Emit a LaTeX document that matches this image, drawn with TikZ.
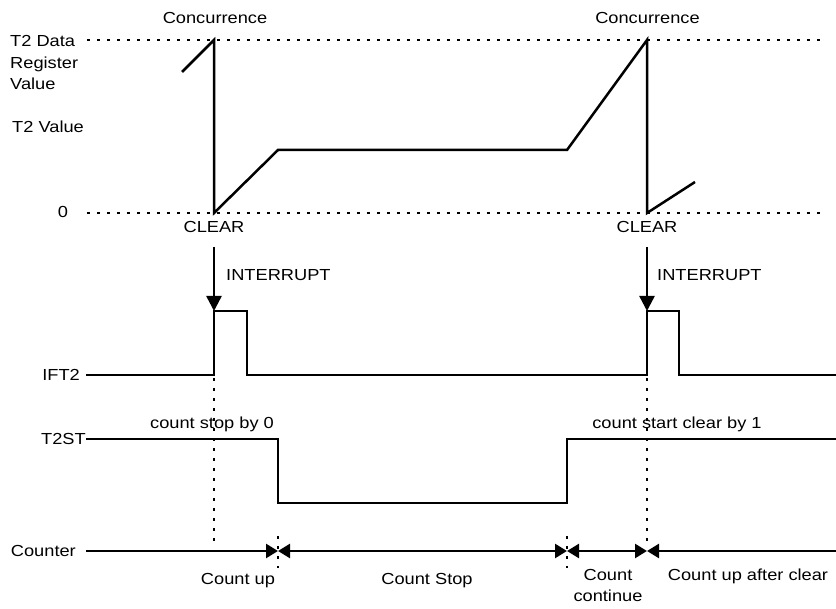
\documentclass[tikz,border=0pt]{standalone}
\usepackage{fontspec}
\setmainfont{Liberation Sans}[FakeStretch=1.14]
\usetikzlibrary{arrows.meta}

\begin{document}
\begin{tikzpicture}[x=1pt, y=-1pt,
        every node/.style={font=\fontsize{16}{21.7}\selectfont, inner sep=0pt},
        wave/.style={line width=2.5pt, line join=miter},
        guide/.style={line width=2.8pt, dash pattern=on 2.8pt off 7.2pt},
        irq/.style={line width=2.5pt, -{Triangle[length=15pt, width=15pt]}},
        bow/.tip={Triangle[length=12pt, width=14pt]},
        span/.style={line width=2.5pt, {bow}-{bow}}
    ]
    \useasboundingbox (0,0) rectangle (836,609);

    % T2 counter value
    \node[anchor=base west, align=left] (regval) at (10,90) {T2 Data\\Register\\Value};
    \node[anchor=base west] (t2val) at (12,133) {T2 Value};
    \node[anchor=base] (zero) at (63,218) {0};
    \node[anchor=base] (conc1) at (215,23.5) {Concurrence};
    \node[anchor=base] (conc2) at (647.5,23.5) {Concurrence};
    \node[anchor=base] (clr1) at (214,233) {CLEAR};
    \node[anchor=base] (clr2) at (647,233) {CLEAR};

    \draw[guide] (87,40) -- (826,40);
    \draw[guide] (87,213) -- (826,213);

    \coordinate (m1) at (214,40);
    \coordinate (z1) at (214,213);
    \coordinate (m2) at (647,40);
    \coordinate (z2) at (647,213);
    \draw[wave] (182,72) -- (m1) -- (z1) -- (278,150) -- (567,150) -- (m2) -- (z2) -- (695,182);

    % interrupts
    \node[anchor=base west] (irq1) at (226,281) {INTERRUPT};
    \node[anchor=base west] (irq2) at (657,281) {INTERRUPT};
    \coordinate (a1) at (214,247);
    \coordinate (b1) at (214,311);
    \coordinate (a2) at (647,247);
    \coordinate (b2) at (647,311);
    \draw[irq] (a1) -- (b1);
    \draw[irq] (a2) -- (b2);

    % IFT2
    \node[anchor=base east] (ift) at (80,381) {IFT2};
    \draw[wave] (86,375) -- (214,375) -- (b1) -- (247,311) -- (247,375)
        -- (647,375) -- (b2) -- (679,311) -- (679,375) -- (836,375);

    % T2ST
    \node[anchor=base east] (t2st) at (86,444.5) {T2ST};
    \node[anchor=base] (stop0) at (212,429) {count stop by 0};
    \node[anchor=base] (start1) at (677,429) {count start clear by 1};
    \draw[wave] (86,439) -- (278,439) -- (278,503) -- (567,503) -- (567,439) -- (836,439);

    % Counter
    \node[anchor=base east] (cnt) at (76,557) {Counter};
    \coordinate (c0) at (86,551);
    \coordinate (c1) at (278,551);
    \coordinate (c2) at (567,551);
    \coordinate (c3) at (647,551);
    \coordinate (c4) at (836,551);
    \draw[wave, -{bow}] (c0) -- (c1);
    \draw[span] (c1) -- (c2);
    \draw[span] (c2) -- (c3);
    \draw[wave, {bow}-] (c3) -- (c4);

    \draw[guide] (214,378) -- (214,542);
    \draw[guide] (647,378) -- (647,542);
    \draw[guide] (278,536) -- (278,568);
    \draw[guide] (567,536) -- (567,568);

    \node[anchor=base] (up) at (238,584) {Count up};
    \node[anchor=base] (stopped) at (427,584) {Count Stop};
    \node[anchor=base, align=center] (cont) at (608,601.7) {Count\\continue};
    \node[anchor=base] (upclr) at (748,580) {Count up after clear};
\end{tikzpicture}
\end{document}
